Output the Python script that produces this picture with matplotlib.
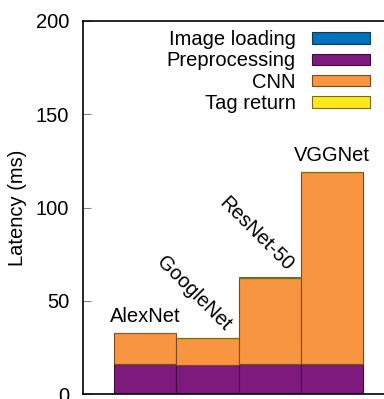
import matplotlib
matplotlib.use("Agg")
import matplotlib.pyplot as plt
import numpy as np

plt.rcParams['font.family'] = ['Liberation Sans', 'DejaVu Sans']

models = ["AlexNet", "GoogleNet", "ResNet-50", "VGGNet"]
stages = ["Image loading", "Preprocessing", "CNN", "Tag return"]
image_loading = [0.8, 0.8, 0.8, 0.8]
preprocessing = [15.4, 15.0, 15.3, 15.3]
cnn = [16.6, 14.2, 46.3, 103.0]
tag_return = [0.1, 0.1, 0.1, 0.1]
yticks = [0, 50, 100, 150, 200]

fills = ["#0072BD", "#7E1A7E", "#F89540", "#FFE81A"]
edges = ["#0B3A5C", "#3E0B3E", "#7A4A1E", "#7A6A10"]

fig = plt.figure(figsize=(3.84, 3.99), dpi=100)
ax = fig.add_axes([83 / 384, 5 / 399, 311 / 384, 373 / 399])

x = np.arange(len(models))
bottom = np.zeros(len(models))
handles = []
for name, vals, fc, ec in zip(stages, [image_loading, preprocessing, cnn, tag_return], fills, edges):
    b = ax.bar(x, vals, width=1.0, bottom=bottom, color=fc, edgecolor=ec,
               linewidth=0.8, label=name)
    handles.append(b)
    bottom += np.array(vals)

totals = bottom
# model names above each stack
ax.text(x[0], totals[0] + 8.5, models[0], ha="center", va="center", fontsize=14.5)
ax.text(x[1] - 0.22, totals[1] + 24, models[1], ha="center", va="center",
        fontsize=14.5, rotation=-45, rotation_mode="anchor")
ax.text(x[2] - 0.21, totals[2] + 23.5, models[2], ha="center", va="center",
        fontsize=14.5, rotation=-45, rotation_mode="anchor")
ax.text(x[3], totals[3] + 8.5, models[3], ha="center", va="center", fontsize=14.5)

ax.set_xlim(-1, 4)
ax.set_ylim(0, 200)
ax.set_yticks(yticks)
ax.set_xticks([])
ax.tick_params(axis="y", direction="in", length=6, color="#888888",
               labelsize=14.5, pad=10)
ax.set_ylabel("Latency (ms)", fontsize=14.5, labelpad=6)
for s in ax.spines.values():
    s.set_linewidth(1.2)

leg = ax.legend(handles=handles, labels=stages, loc="upper right",
                bbox_to_anchor=(370 / 384, 1 - 30 / 399),
                bbox_transform=fig.transFigure, frameon=False,
                markerfirst=False, fontsize=14.5, handlelength=2.9,
                handleheight=0.5, labelspacing=0.12, handletextpad=0.8,
                borderpad=0, borderaxespad=0)

fig.savefig("out.png", dpi=100)
